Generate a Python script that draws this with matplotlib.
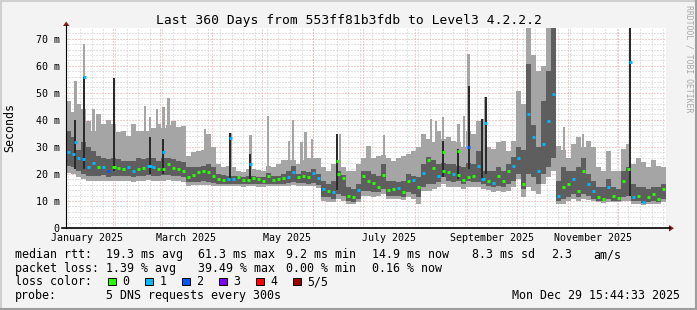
import numpy as np
import matplotlib
matplotlib.use("Agg")
import matplotlib.pyplot as plt
from matplotlib.patches import Polygon, Rectangle
from matplotlib.lines import Line2D
from datetime import datetime, timedelta

W, H = 697, 310
MONO = 'DejaVu Sans Mono'

# graph spans 360 days ending Mon Dec 29 15:44:33 2025
t0 = datetime(2025, 1, 3, 15, 44, 33)
SPAN = 360.0
BIN = 3.0   # days per bar

# smoke per 3-day bin (ms): light = outer range, dark = inner range
light_hi = [47, 43, 46, 44, 39.7, 36, 42, 38.5, 40, 38.5,
            35.4, 36, 34, 38.5, 36, 36, 36, 37, 38.5, 37,
            38, 39.7, 37.2, 37.8, 26.8, 28, 28.6, 29, 34.8, 29.8,
            23.7, 22.4, 23, 22.4, 21.2, 20.6, 21.8, 21.8, 21.5, 21.2,
            23, 22.4, 23.7, 25, 25, 25, 23.7, 25, 26, 26,
            26, 22.4, 21.2, 23.7, 24, 22.4, 21.2, 21.2, 23.7, 26,
            30.5, 26, 26.8, 27, 26, 24.9, 26, 26.8, 27.4, 28.6,
            29.8, 34.8, 33, 32, 36, 33, 33.5, 32.3, 32, 30,
            36, 34.8, 39.7, 29.8, 30, 29.2, 31.7, 32.3, 28.6, 32.3,
            50.8, 46, 74, 64, 58, 60, 74, 74, 30.5, 29,
            26, 31, 33.5, 30, 32.3, 29.8, 22.4, 21.2, 28.6, 21.2,
            21.2, 29.2, 31, 23.7, 26, 24.4, 22.4, 25, 23, 22.4]
dark_hi = [36, 33.5, 29, 32, 29.8, 28.6, 26.8, 26, 25.5, 26,
           25.5, 24.9, 24.9, 24.9, 26, 25.5, 26, 26, 24.9, 26,
           26, 25.5, 24.9, 24.3, 22.4, 22.4, 22.4, 23, 23.7, 22.4,
           20, 19.7, 19.4, 19.4, 19.4, 19, 19.4, 19.4, 19, 18.9,
           20.2, 19.4, 19.4, 20, 21.2, 23, 20, 21.2, 20.6, 21.8,
           20, 17.5, 16.3, 17.5, 21.2, 19.5, 15, 14.4, 16.3, 21.2,
           21.2, 20, 19.4, 23.7, 17.5, 17.5, 16.9, 17.5, 20, 19.4,
           18.7, 23.7, 26.1, 25, 23.7, 24, 23.7, 23.7, 23, 22.4,
           24, 23.7, 28.6, 21.2, 21.2, 21.2, 22.4, 21.2, 23.7, 26.1,
           29.8, 29, 60.7, 38, 30, 47, 58.2, 74, 17.5, 22.4,
           21.2, 21.2, 22.4, 26, 20, 17.5, 15, 15, 18.1, 15,
           14.4, 21.2, 22.4, 16.3, 15, 15, 14.4, 15, 15, 16.3]
med = [28, 27.4, 26, 25.5, 22.4, 24, 22.4, 22.7, 21.2, 22.7,
       22.2, 21.8, 22.4, 21.2, 21.8, 22.2, 23, 22.4, 21.8, 22,
       23.7, 22.2, 21.8, 21.2, 18.7, 19.7, 20.6, 21.2, 20.6, 19.4,
       18.1, 17.8, 18.1, 18, 18.7, 17.8, 17.9, 18.5, 18, 17.5,
       19.4, 17.8, 18.1, 18.5, 19, 20.8, 18.7, 19.4, 19, 20.3,
       18.5, 14.5, 13.8, 13.2, 20, 18.5, 12, 11.3, 14, 19.4,
       17.3, 16.5, 15.3, 19.6, 14.2, 14.4, 14.7, 13.2, 17.5, 17.9,
       15, 20.3, 25.2, 22.2, 19.4, 21, 20.6, 20, 19.5, 17.8,
       19, 19.4, 23, 18.1, 17.5, 16.5, 19.4, 17.5, 21.2, 23,
       26, 16.3, 42.2, 33.5, 21.2, 31, 39.7, 49.6, 12, 15,
       16.3, 18.1, 13.8, 21.2, 16.3, 13.8, 11.3, 10.7, 15, 12,
       11, 17.5, 21.8, 11.3, 12, 9.5, 11.3, 12.6, 10.7, 14.4]
dark_lo = [23, 22.4, 21, 20, 19.4, 19.4, 19.4, 19.5, 19, 19.4,
           19.4, 19.2, 19.4, 19, 19.2, 19.4, 19.5, 19.4, 19.2, 19.5,
           19.7, 19.4, 19.2, 19, 16.9, 17, 17.2, 17.4, 17.2, 16.8,
           16.3, 16.3, 16.3, 16.3, 16.3, 16.2, 16.3, 16.3, 16.2, 16.2,
           16.4, 16.3, 16.3, 16.3, 16.5, 17, 16.5, 16.5, 16.4, 16.8,
           16, 11.3, 11.3, 10.7, 12.6, 12, 10.1, 9.5, 10.7, 13.8,
           13.8, 13.2, 13.2, 14.4, 12, 12, 12, 11.6, 13.2, 12.6,
           11.3, 15, 16.3, 16.3, 16.9, 18.7, 17.5, 16.9, 17.5, 16.3,
           17.5, 16.9, 16.9, 16.3, 15.5, 15, 15.7, 15, 16.3, 17.5,
           20, 14.4, 20, 18.7, 16.3, 20, 22.4, 26, 10.1, 10.7,
           11.3, 12.6, 11.3, 12.6, 12, 10.7, 10.1, 9.9, 10.7, 10.1,
           10.1, 11.3, 11.9, 10.1, 9.9, 9.2, 9.5, 9.9, 9.5, 10.7]
light_lo = [20.5, 20, 18.7, 18, 17.5, 17.5, 17.5, 17.5, 17.3, 17.5,
            17.5, 17.3, 17.5, 17.2, 17.4, 17.5, 17.6, 17.5, 17.3, 17.5,
            17.8, 17.5, 17.3, 17.2, 15.7, 15.8, 16, 16, 16, 15.6,
            15.4, 15.4, 15.4, 15.4, 15.4, 15.3, 15.4, 15.4, 15.3, 15.3,
            15.5, 15.4, 15.4, 15.4, 15.5, 15.8, 15.5, 15.5, 15.4, 15.6,
            14.8, 10.1, 9.5, 9.5, 10.7, 10.1, 8.9, 8.9, 9.5, 12,
            12, 11.3, 12, 12.6, 10.7, 10.7, 10.7, 10.4, 11.3, 10.7,
            8.9, 13.8, 13.8, 14.4, 15, 16.3, 15, 15, 15, 14.4,
            15, 15, 15, 14.4, 14, 13.2, 13.8, 13.2, 13.8, 15,
            18.1, 11.3, 15, 13.8, 12.6, 16.3, 18.7, 21.2, 8.9, 8.9,
            10.1, 10.7, 10.1, 10.7, 10.4, 9.9, 9.5, 9.2, 9.5, 9.5,
            9.5, 10.1, 10.1, 8.9, 8.9, 8.6, 8.9, 8.9, 8.9, 9.5]
loss = [1, 1, 1, 1, 1, 1, 0, 1, 2, 0,
        0, 0, 1, 1, 0, 0, 1, 1, 0, 0,
        0, 0, 0, 0, 0, 0, 0, 0, 0, 0,
        0, 0, 1, 1, 0, 0, 0, 0, 0, 0,
        0, 0, 0, 0, 1, 1, 0, 0, 0, 1,
        1, 1, 0, 1, 0, 0, 0, 0, 1, 0,
        0, 0, 0, 0, 0, 0, 1, 0, 0, 1,
        0, 1, 0, 0, 1, 0, 0, 1, 0, 0,
        0, 0, 1, 1, 0, 1, 0, 0, 0, 1,
        1, 0, 1, 1, 1, 1, 1, 1, 1, 0,
        0, 1, 0, 0, 1, 1, 0, 0, 1, 0,
        0, 0, 0, 1, 0, 1, 0, 0, 0, 0]

# narrow light-gray streaks (day, top ms)
streak_day = [16.4, 47.4, 54.4, 61.4, 83.4, 121.2, 133.6, 136, 141.2, 143.6,
              147.6, 164.4, 190.8, 218.8, 221.8, 238.8, 298.8, 310]
streak_top = [44, 45, 44, 48, 36.6, 41.3, 32.3, 40, 32, 35.4,
              33, 34.8, 34.4, 40.3, 39.7, 41.5, 37.2, 34.8]

# narrow spikes with a dark core
spike_day = [5.6, 10.8, 28.8, 50.4, 58.4, 98.6, 110.6, 162.6, 226.2, 235.4,
             241.5, 249.8, 251.8, 338.4]
spike_hi = [54.5, 68, 55.4, 41, 44.6, 35, 34.4, 34.8, 41, 38.5,
            64.4, 40.3, 48.3, 74]
spike_dhi = [40, 56, 55.4, 33.5, 33, 35, 27.4, 34.8, 32.3, 29.2,
             52.7, 40.3, 48.3, 74]
spike_dlo = [22, 22, 21, 20, 20, 18, 18, 14, 19, 18,
             22, 18, 20, 12]
spike_med = [31.7, 56, 22.5, 23, 28, 33.3, 23.7, 24.7, 28, 28.6,
             29.8, 18.1, 38.7, 61.3]
spike_loss = [1, 1, 0, 1, 1, 1, 1, 0, 0, 0, 2, 1, 1, 1]

loss_colors = ['#26ff00', '#00b8ff', '#0059ff', '#7e00ff', '#ff0000', '#a00000']
loss_names = ['0', '1', '2', '3', '4', '5/5']
LIGHT = '#a5a5a5'
DARK = '#5e5e5e'
CORE = '#2a2a2a'


def days(d):
    return (d - t0).total_seconds() / 86400.0


def fx(px):
    return px / W


def fy(py):
    return 1 - py / H


fig = plt.figure(figsize=(W / 100, H / 100), dpi=100, facecolor='#f3f3f3')
ax = fig.add_axes([fx(66), fy(228), 600 / W, 200 / H])
ax.set_facecolor('white')
ax.set_xlim(0, SPAN)
ax.set_ylim(0, 74)
for s in ax.spines.values():
    s.set_visible(False)

# grid
dots = (0, (1, 2))
for v in np.arange(2, 74, 2):
    if v % 10:
        ax.axhline(v, color='#c8c8c8', lw=0.72, ls=dots, zorder=0)
sunday = datetime(2025, 1, 5)
while days(sunday) < SPAN:
    ax.axvline(days(sunday), color='#c8c8c8', lw=0.72, ls=dots, zorder=0)
    sunday += timedelta(days=7)
for v in range(10, 71, 10):
    ax.axhline(v, color='#eb9c9c', lw=0.72, ls=dots, zorder=0.5)
for m in range(2, 13):
    ax.axvline(days(datetime(2025, m, 1)), color='#eb9c9c', lw=0.72, ls=dots, zorder=0.5)

# smoke
x0 = np.arange(len(med)) * BIN
lh, ll = np.array(light_hi), np.array(light_lo)
dh, dl = np.array(dark_hi), np.array(dark_lo)
ax.bar(x0, lh - ll, bottom=ll, width=BIN, align='edge', color=LIGHT, lw=0, zorder=2)
sb = [light_lo[int(d // BIN)] for d in streak_day]
ax.bar(streak_day, np.array(streak_top) - sb, bottom=sb, width=1.4, color=LIGHT, lw=0, zorder=2)
pb = [light_lo[int(d // BIN)] for d in spike_day]
ax.bar(spike_day, np.array(spike_hi) - pb, bottom=pb, width=1.6, color=LIGHT, lw=0, zorder=2)
ax.bar(x0, dh - dl, bottom=dl, width=BIN, align='edge', color=DARK, lw=0, zorder=3)
ax.bar(spike_day, np.array(spike_dhi) - np.array(spike_dlo), bottom=spike_dlo,
       width=1.2, color=CORE, lw=0, zorder=4)

# median
ax.hlines(med, x0 + 0.6, x0 + 2.4, colors=[loss_colors[l] for l in loss], lw=2.1, zorder=5)
sd = np.array(spike_day)
ax.hlines(spike_med, sd - 0.9, sd + 0.9, colors=[loss_colors[l] for l in spike_loss],
          lw=2.1, zorder=6)

# axis labels
ax.set_xticks([])
ax.set_yticks(range(0, 71, 10))
ax.set_yticklabels(['0'] + ['%d m' % v for v in range(10, 71, 10)],
                   fontfamily=MONO, fontsize=7.2)
ax.tick_params(axis='y', length=0, pad=4.5)
for m in (1, 3, 5, 7, 9, 11):
    a = days(datetime(2025, m, 1))
    b = days(datetime(2025, m + 1, 1))
    ax.text((a + b) / 2, -9.7 / 200, datetime(2025, m, 1).strftime('%B %Y'),
            transform=ax.get_xaxis_transform(), ha='center', va='center',
            fontfamily=MONO, fontsize=7.2)

# axes lines and arrows
fig.add_artist(Line2D([fx(66), fx(66)], [fy(228), fy(25)], color='black', lw=0.8))
fig.add_artist(Line2D([fx(62), fx(670)], [fy(228.3), fy(228.3)], color='black', lw=1.2))
fig.add_artist(Polygon([[fx(63), fy(26)], [fx(69.5), fy(26)], [fx(66.2), fy(21.5)]],
                       closed=True, color='#8e1b1b', lw=0, transform=fig.transFigure))
fig.add_artist(Polygon([[fx(669), fy(225)], [fx(669), fy(231.5)], [fx(674), fy(228.2)]],
                       closed=True, color='#8e1b1b', lw=0, transform=fig.transFigure))

# frame
fig.add_artist(Line2D([0, 1], [fy(1), fy(1)], color='#cfcfcf', lw=1.5))
fig.add_artist(Line2D([fx(1), fx(1)], [0, 1], color='#cfcfcf', lw=1.5))
fig.add_artist(Line2D([0, 1], [fy(309), fy(309)], color='#9e9e9e', lw=1.5))
fig.add_artist(Line2D([fx(696), fx(696)], [0, 1], color='#9e9e9e', lw=1.5))

# titles
fig.text(0.5, fy(24), 'Last 360 Days from 553ff81b3fdb to Level3 4.2.2.2',
         ha='center', va='baseline', fontfamily=MONO, fontsize=9.4)
fig.text(fx(10), fy(127), 'Seconds', rotation=90, ha='center', va='center',
         fontfamily=MONO, fontsize=8.4)
fig.text(fx(688.5), fy(59), 'RRDTOOL / TOBI OETIKER', rotation=270, ha='center',
         va='center', fontfamily=MONO, fontsize=5.9, color='#a8a8a8')

# legend
FS = 8.4
rows = [
    (258, [(15.3, 'median rtt:'), (106.3, '19.3 ms avg'), (198.3, '61.3 ms max'),
           (285.7, '9.2 ms min'), (371.7, '14.9 ms now'), (472.3, '8.3 ms sd'),
           (550.7, '2.3'), (593, 'am/s')]),
    (271.7, [(15.3, 'packet loss:'), (106.3, '1.39 % avg'), (198.3, '39.49 % max'),
             (285.7, '0.00 % min'), (371.7, '0.16 % now')]),
    (285.4, [(15.3, 'loss color:')]),
    (299.1, [(15.3, 'probe:'), (106.3, '5 DNS requests every 300s')]),
]
for yb, segs in rows:
    for xp, s in segs:
        fig.text(fx(xp), fy(yb), s, ha='left', va='baseline', fontfamily=MONO, fontsize=FS)
for i, (c, n) in enumerate(zip(loss_colors, loss_names)):
    bx = 108.3 + 37 * i
    fig.add_artist(Rectangle((fx(bx), fy(285.2)), 7.5 / W, 7.5 / H, facecolor=c,
                             edgecolor='black', lw=0.7, transform=fig.transFigure))
    fig.text(fx(bx + 14.3), fy(285.4), n, ha='left', va='baseline', fontfamily=MONO, fontsize=FS)
fig.text(fx(680.5), fy(299.1), 'Mon Dec 29 15:44:33 2025', ha='right', va='baseline',
         fontfamily=MONO, fontsize=FS)

fig.savefig('out.png', dpi=100, facecolor=fig.get_facecolor())
